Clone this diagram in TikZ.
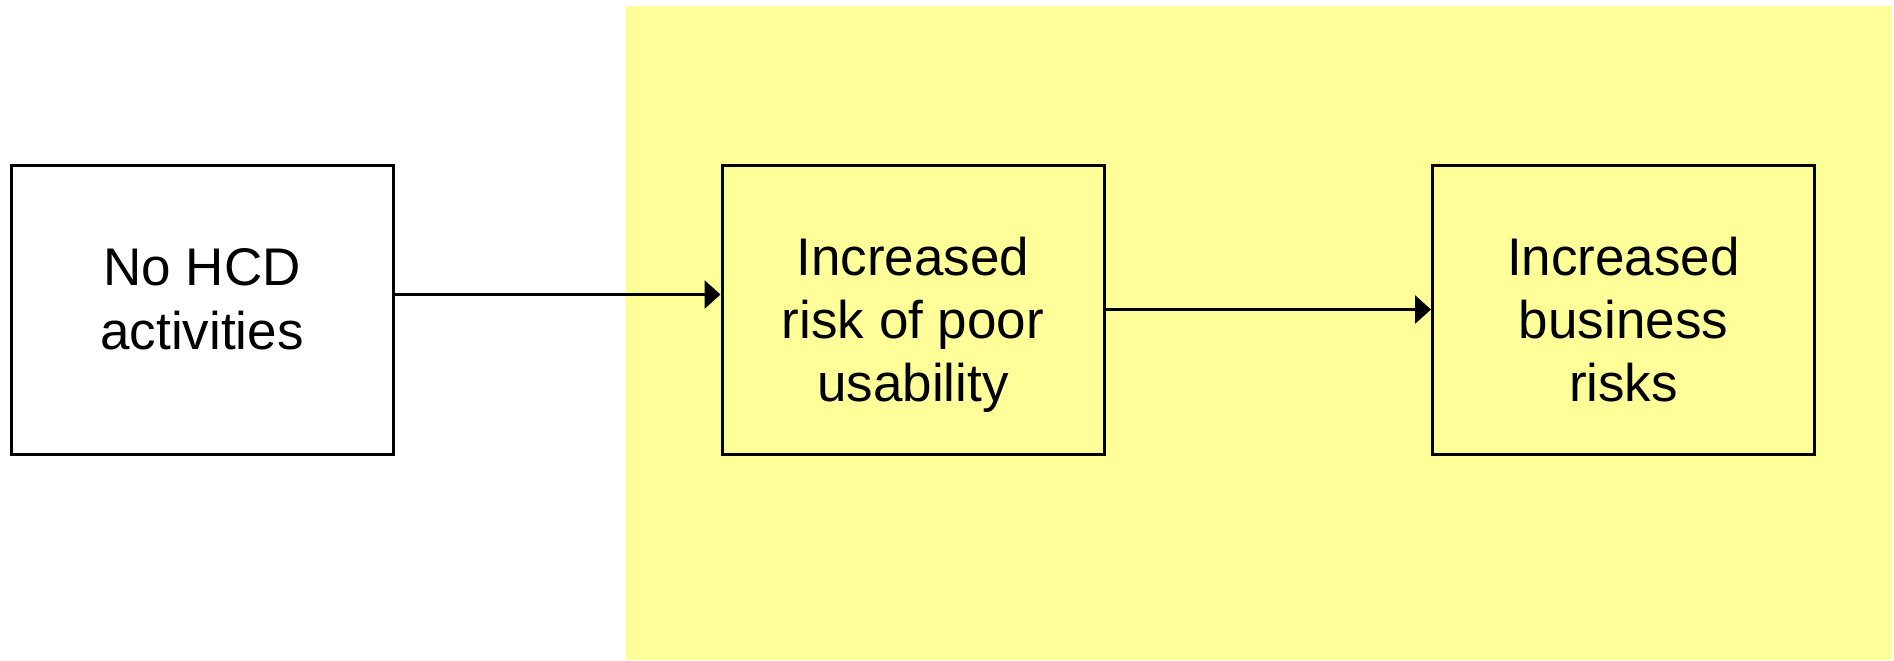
\documentclass[tikz,border=0pt]{standalone}
\usepackage{fontspec}
\setmainfont{Liberation Sans}
\usetikzlibrary{arrows.meta}
\definecolor{riskyellow}{RGB}{255,255,153}

\begin{document}
\begin{tikzpicture}[x=0.5pt,y=-0.5pt,
    box/.style={draw,line width=1.5pt,minimum width=191pt,minimum height=144.5pt,inner sep=0pt},
    boxtext/.style={align=center,inner sep=0pt,anchor=base,font=\fontsize{26.5pt}{31.65pt}\selectfont},
    flow/.style={line width=1.5pt,-{Triangle[length=8pt,width=14pt]}}]%
        \useasboundingbox (0,0) rectangle (1894,660);%
        \fill[riskyellow] (626,6) rectangle (1891,660);%
        \node[box] (nohcd) at (202,309.5) {};%
        \node[box] (poorusab) at (913,309.5) {};%
        \node[box] (bizrisk) at (1623.5,309.5) {};%
        \node[boxtext] (nohcdtxt) at ([yshift=-19.8pt]nohcd.center) {No HCD\\activities};%
        \node[boxtext] (poorusabtxt) at ([yshift=-46.1pt]poorusab.center) {Increased\\risk of poor\\usability};%
        \node[boxtext] (bizrisktxt) at ([yshift=-46.1pt]bizrisk.center) {Increased\\business\\risks};%
        \draw[flow] ([yshift=7.5pt]nohcd.east) -- ([yshift=7.5pt]poorusab.west);%
        \draw[flow] (poorusab) -- (bizrisk);%
    \end{tikzpicture}
\end{document}
